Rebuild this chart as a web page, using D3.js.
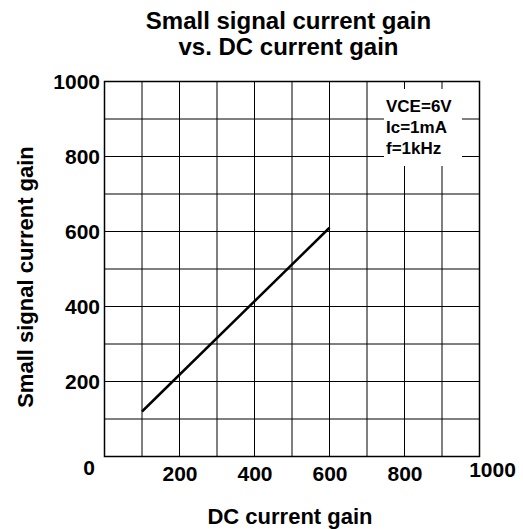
<!DOCTYPE html>
<html>
<head>
<meta charset="utf-8">
<script src="https://cdn.jsdelivr.net/npm/d3@7"></script>
<style>
  body { margin: 0; background: #fff; }
  text { font-family: "Liberation Sans", Arial, sans-serif; font-weight: bold; fill: #000; }
</style>
</head>
<body>
<script>
// values
var dcGain = [100, 600];
var hfe = [120, 610];
var xTicks = [200, 400, 600, 800, 1000];
var yTicks = [200, 400, 600, 800, 1000];
var gridSteps = [0, 100, 200, 300, 400, 500, 600, 700, 800, 900, 1000];
var conditions = ["VCE=6V", "Ic=1mA", "f=1kHz"];

window.onload = function() {
  var w = 523;
  var h = 529;
  var left = 104.5, right = 479.5, top = 81.5, bottom = 456.5;

  var svg = d3.select("body")
              .append("svg")
              .attr("width", w)
              .attr("height", h);

  var x = d3.scaleLinear().domain([0, 1000]).range([left, right]);
  var y = d3.scaleLinear().domain([0, 1000]).range([bottom, top]);

  // grid
  svg.selectAll("line.vgrid")
     .data(gridSteps)
     .enter()
     .append("line")
     .attr("x1", function(d) { return x(d); })
     .attr("x2", function(d) { return x(d); })
     .attr("y1", top)
     .attr("y2", bottom)
     .attr("stroke", "#000")
     .attr("stroke-width", 1);

  svg.selectAll("line.hgrid")
     .data(gridSteps)
     .enter()
     .append("line")
     .attr("y1", function(d) { return y(d); })
     .attr("y2", function(d) { return y(d); })
     .attr("x1", left)
     .attr("x2", right)
     .attr("stroke", "#000")
     .attr("stroke-width", 1);

  // frame
  svg.append("rect")
     .attr("x", left)
     .attr("y", top)
     .attr("width", right - left)
     .attr("height", bottom - top)
     .attr("fill", "none")
     .attr("stroke", "#000")
     .attr("stroke-width", 1.5);

  // white box behind the test conditions
  svg.append("rect")
     .attr("x", 384)
     .attr("y", 89)
     .attr("width", 78)
     .attr("height", 77)
     .attr("fill", "#fff");

  svg.selectAll("text.cond")
     .data(conditions)
     .enter()
     .append("text")
     .attr("x", 386)
     .attr("y", function(d, i) { return 112 + i * 21; })
     .attr("font-size", 17)
     .text(function(d) { return d; });

  // the curve
  var line = d3.line()
               .x(function(d) { return x(d[0]); })
               .y(function(d) { return y(d[1]); });

  svg.append("path")
     .datum(d3.zip(dcGain, hfe))
     .attr("d", line)
     .attr("fill", "none")
     .attr("stroke", "#000")
     .attr("stroke-width", 2.5);

  // tick labels
  var yAxis = d3.axisLeft(y).tickValues(yTicks).tickSize(0).tickPadding(4.5).tickFormat(d3.format("d"));
  var gy = svg.append("g").attr("transform", "translate(" + left + ",0)").call(yAxis);
  gy.select(".domain").remove();
  gy.attr("font-family", null).attr("font-size", null);
  gy.selectAll("text").attr("font-size", 21);

  var xAxis = d3.axisBottom(x).tickValues(xTicks).tickSize(0).tickPadding(10).tickFormat(d3.format("d"));
  var gx = svg.append("g").attr("transform", "translate(0," + bottom + ")").call(xAxis);
  gx.select(".domain").remove();
  gx.attr("font-family", null).attr("font-size", null);
  gx.selectAll("text").attr("font-size", 21);
  // the last label sits a bit right and higher
  gx.selectAll(".tick")
    .filter(function(d) { return d === 1000; })
    .select("text")
    .attr("dx", 12.5)
    .attr("y", 6);

  svg.append("text")
     .attr("x", 89)
     .attr("y", 475)
     .attr("text-anchor", "middle")
     .attr("font-size", 21)
     .text("0");

  // titles
  svg.append("text")
     .attr("x", 288.5)
     .attr("y", 28.5)
     .attr("text-anchor", "middle")
     .attr("font-size", 24)
     .text("Small signal current gain");

  svg.append("text")
     .attr("x", 288.5)
     .attr("y", 55)
     .attr("text-anchor", "middle")
     .attr("font-size", 24)
     .text("vs. DC current gain");

  svg.append("text")
     .attr("x", 290)
     .attr("y", 524)
     .attr("text-anchor", "middle")
     .attr("font-size", 22)
     .text("DC current gain");

  svg.append("text")
     .attr("transform", "translate(33,277) rotate(-90)")
     .attr("text-anchor", "middle")
     .attr("font-size", 22)
     .text("Small signal current gain");
};
</script>
</body>
</html>
